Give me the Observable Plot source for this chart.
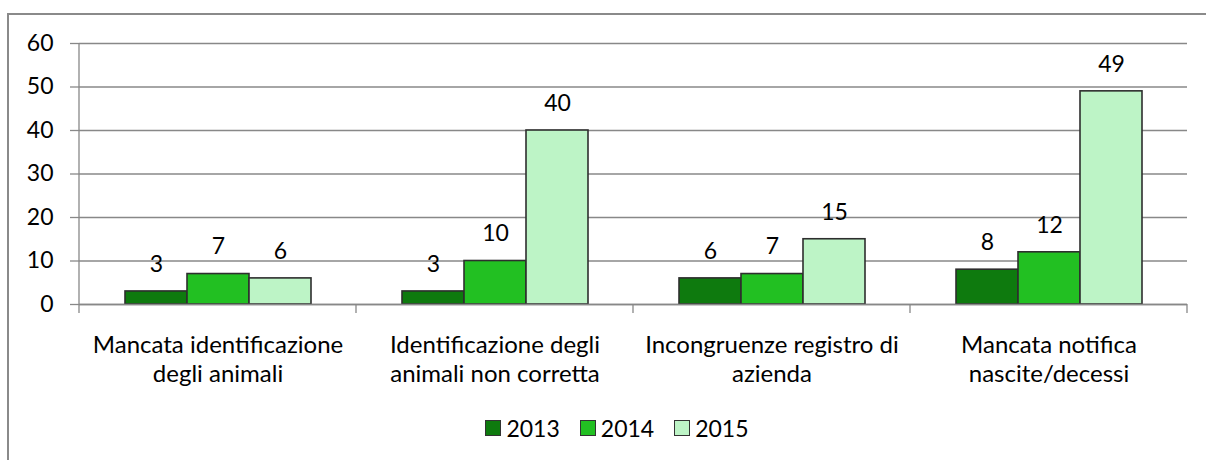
<!DOCTYPE html>
<html><head><meta charset="utf-8">
<script src="https://cdn.jsdelivr.net/npm/d3@7"></script>
<script src="https://cdn.jsdelivr.net/npm/@observablehq/plot@0.6"></script>
<style>
body{margin:0;background:#fff;font-family:Lato,sans-serif;}
#wrap{position:relative;width:1206px;height:460px;overflow:hidden;background:#fff;}
#border{position:absolute;left:7px;top:13px;width:1300px;height:700px;border:2px solid #8a8a8a;box-sizing:border-box;pointer-events:none;}
#chart svg{display:block;}
#legend{display:flex;justify-content:center;align-items:center;height:56px;padding-left:28px;font-size:23px;color:#000;font-family:Lato,sans-serif;}
.item{display:flex;align-items:center;margin:0 10px;}
.sw{width:16px;height:16px;border:1px solid #333;margin-right:5px;box-sizing:border-box;}
</style></head><body>
<div id="wrap"><div id="border"></div><div id="chart"></div><div id="legend"></div></div>
<script>
const categories = ["Mancata identificazione degli animali","Identificazione degli animali non corretta","Incongruenze registro di azienda","Mancata notifica nascite/decessi"];
const categoryLabels = ["Mancata identificazione\ndegli animali","Identificazione degli\nanimali non corretta","Incongruenze registro di\nazienda","Mancata notifica\nnascite/decessi"];
const years = ["2013","2014","2015"];
const values2013 = [3, 3, 6, 8];
const values2014 = [7, 10, 7, 12];
const values2015 = [6, 40, 15, 49];
const colors = ["#0e7a0e", "#22c022", "#bdf4c6"];
const yTicks = [0, 10, 20, 30, 40, 50, 60];

const series = [values2013, values2014, values2015];
const data = categories.flatMap((c, i) => years.map((y, j) => ({category: c, year: y, value: series[j][i]})));

const plot = Plot.plot({
  width: 1206, height: 400,
  marginLeft: 78, marginRight: 18, marginTop: 43, marginBottom: 96,
  style: {fontFamily: "Lato, sans-serif", fontSize: "23px", color: "#000", background: "transparent", overflow: "visible"},
  fx: {domain: categories, padding: 0, label: null},
  x: {domain: years, paddingInner: 0, paddingOuter: 0.73, axis: null},
  y: {domain: [0, 60], label: null},
  color: {domain: years, range: colors},
  marks: [
    Plot.gridY(yTicks, {stroke: "#888", strokeOpacity: 1, strokeWidth: 1.3}),
    Plot.axisY(yTicks, {tickSize: 9, tickPadding: 17, stroke: "#888", strokeWidth: 1.3, fill: "#000", label: null, fontSize: 23}),
    Plot.axisFx({anchor: "bottom", tickSize: 0, tickPadding: 28, lineAnchor: "top", lineHeight: 1.21, fill: "#000",
      tickFormat: c => categoryLabels[categories.indexOf(c)], label: null, fontSize: 24}),
    Plot.barY(data, {fx: "category", x: "year", y: "value", fill: "year", stroke: "#2e2e2e", strokeWidth: 1.6}),
    Plot.ruleY([0], {stroke: "#888", strokeWidth: 1.3}),
    Plot.text(data, {fx: "category", x: "year", y: "value", text: d => String(d.value), dy: -27, fontSize: 23, fill: "#000"})
  ]
});

// axis line and category boundary ticks from the library's scales
const fxs = plot.scale("fx"), ys = plot.scale("y");
const y0 = ys.apply(0), yTop = ys.apply(60);
const edges = categories.map(c => fxs.apply(c)).concat(fxs.apply(categories[categories.length - 1]) + fxs.bandwidth);
const g = d3.select(plot).append("g").attr("stroke", "#888").attr("stroke-width", 1.3);
g.append("line").attr("x1", edges[0]).attr("x2", edges[0]).attr("y1", yTop).attr("y2", y0);
g.selectAll("line.edge").data(edges).join("line").attr("class", "edge")
  .attr("x1", d => d).attr("x2", d => d).attr("y1", y0).attr("y2", y0 + 9);

document.getElementById("chart").appendChild(plot);

const legend = d3.select("#legend");
years.forEach((y, i) => {
  const item = legend.append("span").attr("class", "item");
  item.append("span").attr("class", "sw").style("background", colors[i]);
  item.append("span").text(y);
});
</script>
</body></html>
